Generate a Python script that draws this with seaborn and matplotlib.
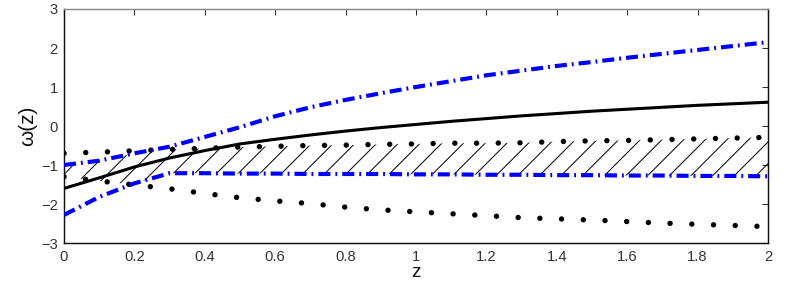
import numpy as np
import matplotlib
matplotlib.use("Agg")
import matplotlib.pyplot as plt
import seaborn as sns

# ---- data ----
z = [0.0, 0.1, 0.2, 0.3, 0.4, 0.5, 0.6, 0.7, 0.8, 0.9, 1.0,
     1.1, 1.2, 1.3, 1.4, 1.5, 1.6, 1.7, 1.8, 1.9, 2.0]
w_best = [-1.60, -1.33, -1.05, -0.82, -0.63, -0.46, -0.34, -0.23, -0.13, -0.04, 0.04,
          0.12, 0.19, 0.26, 0.32, 0.38, 0.43, 0.48, 0.53, 0.57, 0.61]
blue_up = [-1.00, -0.89, -0.70, -0.53, -0.28, -0.03, 0.25, 0.48, 0.67, 0.84, 1.00,
           1.15, 1.30, 1.42, 1.54, 1.64, 1.75, 1.85, 1.95, 2.05, 2.15]
blue_low = [-2.28, -1.82, -1.47, -1.21, -1.21, -1.22, -1.22, -1.23, -1.23, -1.23, -1.24,
            -1.24, -1.25, -1.25, -1.26, -1.26, -1.27, -1.27, -1.28, -1.28, -1.29]
dot_up = [-0.70, -0.67, -0.635, -0.60, -0.57, -0.54, -0.52, -0.50, -0.49, -0.47, -0.46,
          -0.44, -0.44, -0.43, -0.40, -0.38, -0.37, -0.35, -0.33, -0.31, -0.29]
dot_low = [-1.30, -1.41, -1.51, -1.61, -1.73, -1.84, -1.92, -1.99, -2.08, -2.15, -2.20,
           -2.25, -2.30, -2.35, -2.38, -2.41, -2.45, -2.49, -2.52, -2.55, -2.58]
xticks = [0, 0.2, 0.4, 0.6, 0.8, 1.0, 1.2, 1.4, 1.6, 1.8, 2.0]
xticklabels = ["0", "0.2", "0.4", "0.6", "0.8", "1", "1.2", "1.4", "1.6", "1.8", "2"]
yticks = [-3, -2, -1, 0, 1, 2, 3]

sns.set_theme(style="white")
plt.rcParams["font.family"] = ["Liberation Sans", "DejaVu Sans"]
plt.rcParams["hatch.linewidth"] = 0.55
plt.rcParams["axes.unicode_minus"] = True

DPI = 130
fig, ax = plt.subplots(figsize=(795 / DPI, 296 / DPI), dpi=DPI)
fig.subplots_adjust(left=0.0805, right=0.966, top=0.9696, bottom=0.179)

# hatched overlap region (intersection of the two bands)
zf = np.linspace(0, 2, 401)
lo = np.maximum(np.interp(zf, z, blue_low), np.interp(zf, z, dot_low))
hi = np.minimum(np.interp(zf, z, blue_up), np.interp(zf, z, dot_up))
ax.fill_between(zf, lo, hi, where=hi > lo, interpolate=True,
                facecolor="none", edgecolor="black", hatch="//", linewidth=0, zorder=1)

# dotted bounds
for vals in (dot_up, dot_low):
    sns.lineplot(x=z, y=vals, ax=ax, color="black", linewidth=3.0,
                 linestyle=(0, (0.01, 4.0)), dash_capstyle="round", zorder=3)

# blue dash-dot bounds
for vals in (blue_up, blue_low):
    sns.lineplot(x=z, y=vals, ax=ax, color="#0000ff", linewidth=2.3,
                 linestyle=(0, (2.9, 1.2, 0.45, 1.2)), zorder=4)

# best fit
sns.lineplot(x=z, y=w_best, ax=ax, color="black", linewidth=1.7, zorder=5)

ax.set_xlim(0, 2)
ax.set_ylim(-3, 3)
ax.set_xticks(xticks)
ax.set_xticklabels(xticklabels)
ax.set_yticks(yticks)
ax.tick_params(direction="in", top=True, right=True, length=3.3, width=0.6,
               labelsize=8.2, colors="#333333", pad=4)
ax.tick_params(axis="y", pad=3.5)
for side, sp in ax.spines.items():
    sp.set_linewidth(0.8)
    sp.set_color("#111111")
ax.spines["top"].set_color("#888888")

ax.set_xlabel("z", fontsize=10.5, color="#111111", labelpad=0)
ax.set_ylabel("ω(z)", fontsize=11.5, color="#111111", labelpad=2)

fig.savefig("out.png", dpi=DPI)
